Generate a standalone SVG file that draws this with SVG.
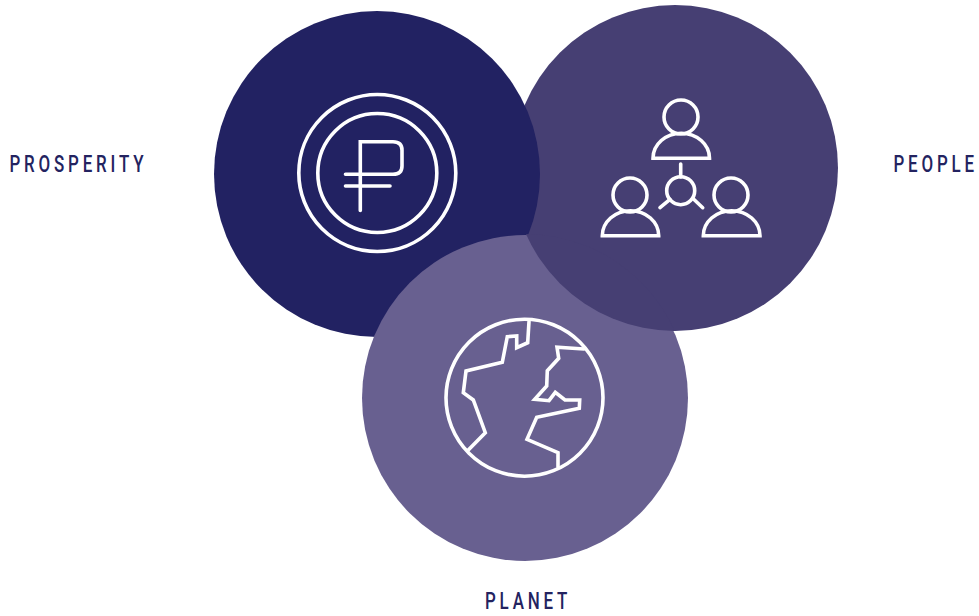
<svg xmlns="http://www.w3.org/2000/svg" width="979" height="616" viewBox="0 0 979 616">
<style>
.l{fill:none;stroke:#fff;stroke-width:3.600;stroke-linejoin:miter;stroke-linecap:round}
.t{font-family:Roboto,"Liberation Sans",Arial,sans-serif;font-weight:500;font-size:23.500px;fill:#232360;letter-spacing:5.300px}
</style>
<defs>
<clipPath id="in-planet"><circle cx="525" cy="398" r="164"/></clipPath>
</defs>
<rect width="979" height="616" fill="#fff"/>
<g id="people">
<circle id="people-disc" cx="675" cy="168" r="163" fill="#463f73"/>
<circle class="l" cx="681" cy="117" r="17"/>
<path class="l" d="M653 158.200H709.500A28.250 25 0 0 0 653 158.200Z"/>
<circle class="l" cx="630" cy="195" r="17"/>
<path class="l" d="M602.300 235.700H658.700A28.200 25 0 0 0 602.300 235.700Z"/>
<circle class="l" cx="731" cy="195" r="17"/>
<path class="l" d="M703.300 235.700H760A28.350 25 0 0 0 703.300 235.700Z"/>
<circle class="l" cx="680.700" cy="190.700" r="14"/>
<path class="l" d="M680.700 164V177M660 207.700 670 199.300M702.700 207.700 692.700 198.300"/>
<text class="t" transform="translate(893.500 172) scale(.72 1)">PEOPLE</text>
</g>
<g id="prosperity">
<circle cx="377" cy="174" r="163" fill="#222262"/>
<circle class="l" cx="377.300" cy="173" r="78.500"/>
<circle class="l" cx="377.300" cy="173" r="59.500"/>
<path class="l" d="M360.300 210.500V141.700H393Q402 141.700 402 150V166Q402 174.300 393 174.300H345.500M345.500 186H390"/>
<text class="t" transform="translate(9.500 172) scale(.72 1)">PROSPERITY</text>
</g>
<g id="planet">
<circle cx="525" cy="398" r="163" fill="#686090"/>
<use href="#people-disc" clip-path="url(#in-planet)"/>
<circle class="l" cx="524.500" cy="397.700" r="78.500"/>
<path class="l" d="M529 321.700 527.700 342.700 516.700 347.700V336L507.300 336.700 502.300 362.300 466 371 463.300 392.700 473.300 400 485.300 432.700 468.300 450"/>
<path class="l" d="M584 349 557 347.300 558.700 358.300 547.300 370.700 546.700 386 534.700 399.300 549 400.700 555.300 392.300 565 400H579.700L579.300 408.300 536.700 417.300 527 439.300 558 452.700V466.700"/>
<text class="t" transform="translate(485 609) scale(.72 1)">PLANET</text>
</g>
<g id="connectors"/>
</svg>
